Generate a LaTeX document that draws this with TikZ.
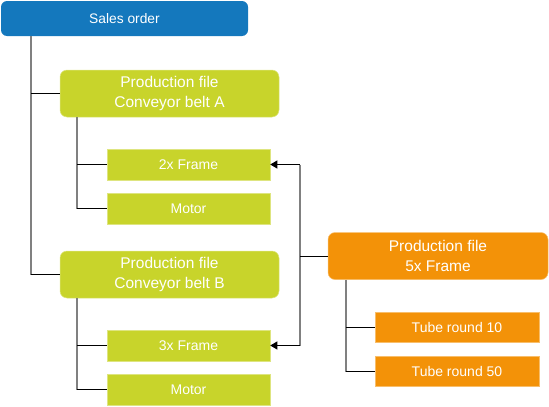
\documentclass[tikz,border=0pt]{standalone}
\usepackage{fontspec}
\setmainfont{Liberation Sans}
\usetikzlibrary{arrows.meta}
\definecolor{orderblue}{HTML}{1478BD}
\definecolor{partgreen}{HTML}{C8D42B}
\definecolor{frameorange}{HTML}{F39208}
\definecolor{stemgrey}{HTML}{808080}
\begin{document}
\begin{tikzpicture}
  [x=1pt,y=-1pt,
   file/.style={rounded corners=7pt,text=white,align=center,inner sep=0pt,
     minimum width=219pt,minimum height=47pt,font=\fontsize{15.5}{20.5}\selectfont},
   part/.style={text=white,inner sep=0pt,minimum width=163pt,minimum height=31pt,
     font=\fontsize{14}{16}\selectfont},
   stem/.style={draw=stemgrey,line width=1.6pt},
   branch/.style={draw=black,line width=.8pt}]
  \useasboundingbox (0,0) rectangle (549,407);

  \node[rounded corners=6pt,fill=orderblue,text=white,inner sep=0pt,
    minimum width=247pt,minimum height=35pt,font=\fontsize{13.8}{16}\selectfont]
    (so) at (124.5,18.5) {Sales order};
  \node[file,fill=partgreen,draw=partgreen!60!white,line width=.5pt] (pa) at (169.5,93.5) {Production file\\Conveyor belt A};
  \node[part,fill=partgreen,draw=partgreen!60!white,line width=.5pt] (fa) at (188.5,164.5) {2x Frame};
  \node[part,fill=partgreen,draw=partgreen!60!white,line width=.5pt] (ma) at (188.5,208.5) {Motor};
  \node[file,fill=partgreen,draw=partgreen!60!white,line width=.5pt] (pb) at (169.5,274.5) {Production file\\Conveyor belt B};
  \node[part,fill=partgreen,draw=partgreen!60!white,line width=.5pt] (fb) at (188.5,345.5) {3x Frame};
  \node[part,fill=partgreen,draw=partgreen!60!white,line width=.5pt] (mb) at (188.5,389.5) {Motor};
  \node[file,fill=frameorange,draw=frameorange!60!white,line width=.5pt,minimum width=220pt] (pf) at (438,256) {Production file\\5x Frame};
  \node[part,fill=frameorange,draw=frameorange!60!white,line width=.5pt,minimum width=164pt,minimum height=30pt] (t10) at (457,327) {Tube round 10};
  \node[part,fill=frameorange,draw=frameorange!60!white,line width=.5pt,minimum width=164pt,minimum height=30pt] (t50) at (457,371.5) {Tube round 50};

  % stems below each parent
  \coordinate (so-s) at ([xshift=30pt]so.south west);
  \coordinate (pa-s) at ([xshift=17pt]pa.south west);
  \coordinate (pb-s) at ([xshift=17pt]pb.south west);
  \coordinate (pf-s) at ([xshift=18pt]pf.south west);
  \coordinate (hub) at ([xshift=-28pt]pf.west);

  \foreach \from/\to in {so-s/pb,pa-s/ma,pb-s/mb,pf-s/t50}
    \draw[stem] (\from) -- (\from |- \to.west);
  \draw[stem] (hub |- fa.east) -- (hub |- fb.east);

  \foreach \from/\to in {so-s/pa,so-s/pb,pa-s/fa,pa-s/ma,pb-s/fb,pb-s/mb,pf-s/t10,pf-s/t50}
    \draw[branch] (\from |- \to.west) -- (\to.west);

  \draw[branch] (pf.west) -- (hub);
  \foreach \to in {fa,fb}
    \draw[branch,-{Triangle[length=7pt,width=8pt]}] (hub |- \to.east) -- (\to.east);

\end{tikzpicture}
\end{document}
